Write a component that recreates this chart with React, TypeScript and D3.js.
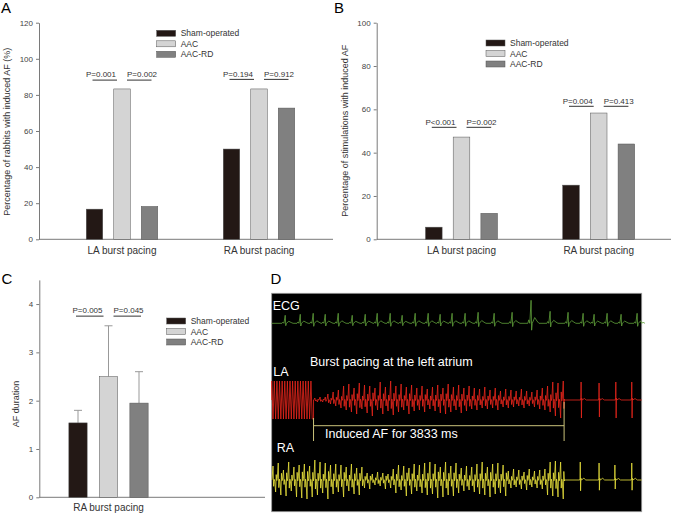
import React, { useRef, useEffect } from "react";
import * as d3 from "d3";

const W = 673;
const H = 514;
const FONT = "'Liberation Sans', Arial, sans-serif";
const AXIS = "#7a7a7a";
const TEXT = "#333";

const groups = ["Sham-operated", "AAC", "AAC-RD"];
const colors = ["#231815", "#d4d4d4", "#808080"];
const sites = ["LA burst pacing", "RA burst pacing"];

// A: % rabbits with induced AF
const rabbitsLA = [16.7, 83.3, 18.2];
const rabbitsRA = [50, 83.3, 72.7];
const rabbitsP = [["P=0.001", "P=0.002"], ["P=0.194", "P=0.912"]];
const ticksA = [0, 20, 40, 60, 80, 100, 120];

// B: % stimulations with induced AF
const stimLA = [5.6, 47.2, 12.0];
const stimRA = [25.0, 58.3, 44.0];
const stimP = [["P<0.001", "P=0.002"], ["P=0.004", "P=0.413"]];
const ticksB = [0, 20, 40, 60, 80, 100];

// C: AF duration (RA burst pacing)
const durationRA = [1.54, 2.5, 1.95];
const durationErr = [0.26, 1.05, 0.65];
const durationP = [["P=0.005", "P=0.045"]];
const ticksC = [0, 1, 2, 3, 4];

// D: recordings, time in ms (0 = end of burst pacing)
const afDurationMs = 3833;
const ecgBeatMs = [-433, -203, -5, 179, 378, 592, 791, 974, 1173, 1356, 1555, 1754, 1937,
  2120, 2319, 2518, 2763, 3038, 3328, 3619, 3894, 4124, 4292, 4491, 4705, 4950];
const ecgBeatAmp = [8, 9, 10, 9, 10, 8, 9, 10, 10, 8, 10, 10, 9, 10, 10, 11, 10, 11, 23, 12,
  11, 10, 9, 10, 9, 10];
const laPacingMs = [-630, -590, -550, -510, -470, -430, -390, -350, -310, -270, -230, -190,
  -150, -110, -70, -30];
// LA AF deflections, one every 40 ms from 20 ms
const laAfAmp = [2, -2, 3, -2, 3,
  6, -4, 8, -6, 10,
  -8, 14, -10, 16, -12, 12, -14, 17, -9, 15,
  -13, 14, -16, 12, -10, 18, -14, 13, -11, 19,
  -15, 14, -12, 16, -10, 13, -14, 15, -11, 12,
  -10, 14, -12, 11, -9, 13, -11, 15, -13, 12,
  -14, 16, -12, 13, -10, 15, -13, 12, -11, 14,
  -9, 12, -10, 11, -8, 13, -9, 10, -8, 12,
  -10, 9, -7, 11, -8, 10, -7, 9, -6, 11,
  -8, 9, -6, 8, -7, 10, -9, 12, -10, 14,
  -12, 18, -16, 17, -18, 19];
const laBeatMs = [4093, 4368, 4624, 4868];
const laBeatAmp = [18, 17, 18, 18];
// RA deflections, one every 40 ms from -620 ms
const raAfAmp = [14, -12, 17, -15, 10, -16, 18, -11, 13, -17, 15,
  -18, 16, -19, 14, -17, 20, -15, 18, -13, 17, -19, 15,
  -14, 16, -12, 15, -17, 13, -11, 16, -14, 12, -15, 13,
  -8, 7, -9, 6, -5, 8, -6, 7, -9, 6, -8,
  11, -13, 15, -10, 14, -16, 12, -14, 16, -11, 15, -13,
  17, -15, 18, -14, 16, -18, 13, -17, 18, -15, 14, -16, 17, -13,
  12, -11, 14, -10, 13, -12,
  16, -14, 18, -15, 13, -17, 16, -14, 17, -13, 15, -16,
  9, -8, 11, -7, 10, -9, 8, -10, 11, -7, 9, -8, 10, -9, 11,
  -15, 18, -16, 19, -17, 18, -19];
const raBeatMs = [4080, 4368, 4610, 4868];
const raBeatAmp = [18, 17, 15, 17];

type Panel = {
  letter: string; letterX: number; letterY: number;
  x0: number; x1: number; y0: number; y1: number; yMax: number; ticks: number[];
  sites: string[]; siteRange: [number, number]; half: number;
  values: number[][]; errors?: number[][];
  pText: string[][]; pLevel: number[];
  legendX: number; legendY: number;
  yLabel: string; yLabelX: number; yLabelY: number; catY: number;
};

const panels: Panel[] = [
  {
    letter: "A", letterX: 1, letterY: 13,
    x0: 39, x1: 333, y0: 239.3, y1: 22.7, yMax: 120, ticks: ticksA,
    sites, siteRange: [122, 259], half: 35.75,
    values: [rabbitsLA, rabbitsRA], pText: rabbitsP, pLevel: [88.2, 88.6],
    legendX: 156.7, legendY: 33.3,
    yLabel: "Percentage of rabbits with induced AF (%)", yLabelX: 9.5, yLabelY: 131.7, catY: 253.5,
  },
  {
    letter: "B", letterX: 334, letterY: 13,
    x0: 376.7, x1: 671, y0: 239.3, y1: 22.7, yMax: 100, ticks: ticksB,
    sites, siteRange: [461.5, 598.7], half: 36,
    values: [stimLA, stimRA], pText: stimP, pLevel: [51.7, 61.4],
    legendX: 486, legendY: 43,
    yLabel: "Percentage of stimulations with induced AF", yLabelX: 348, yLabelY: 130.8, catY: 254,
  },
  {
    letter: "C", letterX: 1.5, letterY: 283.5,
    x0: 39.3, x1: 265, y0: 497.3, y1: 279.9, yMax: 4.5, ticks: ticksC,
    sites: ["RA burst pacing"], siteRange: [108.5, 108.5], half: 39.65,
    values: [durationRA], errors: [durationErr], pText: durationP, pLevel: [3.75],
    legendX: 166.7, legendY: 321,
    yLabel: "AF duration", yLabelX: 19, yLabelY: 404, catY: 510.5,
  },
];

function drawBarPanel(svg: any, p: Panel) {
  const g = svg.append("g");
  const y = d3.scaleLinear().domain([0, p.yMax]).range([p.y0, p.y1]);
  const site = d3.scalePoint<string>().domain(p.sites).range(p.siteRange);
  const inner = d3.scaleBand<string>().domain(groups).range([-p.half, p.half]).paddingInner(0.4);
  const bw = inner.bandwidth();

  const ax = g.append("g")
    .attr("transform", `translate(${p.x0},0)`)
    .call(d3.axisLeft(y).tickValues(p.ticks).tickFormat(d3.format("~g"))
      .tickSize(3).tickSizeOuter(0).tickPadding(3));
  ax.attr("font-family", FONT).attr("font-size", 8);
  ax.select(".domain").attr("stroke", AXIS);
  ax.selectAll(".tick line").attr("stroke", AXIS);
  ax.selectAll(".tick text").attr("fill", "#444");

  g.append("line")
    .attr("x1", p.x0).attr("x2", p.x1)
    .attr("y1", p.y0).attr("y2", p.y0)
    .attr("stroke", AXIS);

  p.sites.forEach((s, si) => {
    const cx = site(s)!;
    groups.forEach((gr, gi) => {
      const v = p.values[si][gi];
      const bx = cx + inner(gr)!;
      if (p.errors) {
        const e = p.errors[si][gi];
        const mx = bx + bw / 2;
        g.append("line").attr("x1", mx).attr("x2", mx)
          .attr("y1", y(v)).attr("y2", y(v + e)).attr("stroke", "#999");
        g.append("line").attr("x1", mx - 4).attr("x2", mx + 4)
          .attr("y1", y(v + e)).attr("y2", y(v + e)).attr("stroke", "#999");
      }
      g.append("rect")
        .attr("x", bx).attr("y", y(v))
        .attr("width", bw).attr("height", y(0) - y(v))
        .attr("fill", colors[gi])
        .attr("stroke", "#555").attr("stroke-width", 0.5);
    });

    g.append("text")
      .attr("x", cx).attr("y", p.catY)
      .attr("text-anchor", "middle")
      .attr("font-size", 10).attr("fill", TEXT)
      .text(s);

    // p-values
    const c = groups.map((gr) => cx + inner(gr)! + bw / 2);
    const ly = y(p.pLevel[si]);
    [[c[0] - 2, c[1] - 5], [c[1] + 5, c[2] + 2]].forEach(([a, b]) => {
      g.append("line").attr("x1", a).attr("x2", b)
        .attr("y1", ly).attr("y2", ly)
        .attr("stroke", "#333").attr("stroke-width", 1);
    });
    g.append("text").attr("x", c[1] - 6).attr("y", ly - 2.7)
      .attr("text-anchor", "end").attr("font-size", 8).attr("fill", TEXT)
      .text(p.pText[si][0]);
    g.append("text").attr("x", c[1] + 5).attr("y", ly - 2.7)
      .attr("text-anchor", "start").attr("font-size", 8).attr("fill", TEXT)
      .text(p.pText[si][1]);
  });

  // legend
  groups.forEach((gr, i) => {
    const ry = p.legendY + i * 10.5;
    g.append("rect")
      .attr("x", p.legendX).attr("y", ry - 3)
      .attr("width", 19).attr("height", 6)
      .attr("fill", colors[i]).attr("stroke", "#555").attr("stroke-width", 0.5);
    g.append("text")
      .attr("x", p.legendX + 24).attr("y", ry + 3)
      .attr("font-size", 8.5).attr("fill", TEXT)
      .text(gr);
  });

  g.append("text")
    .attr("transform", `translate(${p.yLabelX},${p.yLabelY}) rotate(-90)`)
    .attr("text-anchor", "middle")
    .attr("font-size", 9).attr("fill", TEXT)
    .text(p.yLabel);

  g.append("text")
    .attr("x", p.letterX).attr("y", p.letterY)
    .attr("font-size", 15).attr("fill", "#000")
    .text(p.letter);
}

function beats(times: number[], amps: number[], shape: number[][]) {
  return times.flatMap((t, i) => shape.map(([dt, f]) => [t + dt, f * amps[i]]));
}

// each AF deflection drawn as a sharp spike
const spikeShape = [[-14, 0.1], [0, 1], [9, -0.45], [18, 0.05]];

function drawTraces(svg: any) {
  const left = 271.7, right = 641.7, top = 293.3, bottom = 511.7;
  const g = svg.append("g");
  g.append("rect")
    .attr("x", left).attr("y", top)
    .attr("width", right - left).attr("height", bottom - top)
    .attr("fill", "#000").attr("stroke", "#999").attr("stroke-width", 0.8);

  const tx = d3.scaleLinear().domain([-640, 5020]).range([left, right]);
  const ecgY = d3.scaleLinear().domain([-20, 20]).range([343.3, 303.3]);
  const laY = d3.scaleLinear().domain([-20, 20]).range([420, 380]);
  const raY = d3.scaleLinear().domain([-20, 20]).range([500, 460]);

  const byTime = (a: number[], b: number[]) => a[0] - b[0];

  // ECG
  const ecgShape = [[-50, 0], [-35, 0.15], [-20, 0], [0, 1], [8, -0.3], [18, 0], [55, 0.25], [90, 0.1], [120, 0]];
  const ecgPts = [[-640, 0], ...beats(ecgBeatMs, ecgBeatAmp, ecgShape), [5020, 0]].sort(byTime);

  // LA
  const laPts: number[][] = [[-640, 0]];
  laPacingMs.forEach((t) => { laPts.push([t - 10, 19], [t + 10, -19]); });
  laPts.push([0, -19], [0, 0]);
  const laAfMs = laAfAmp.map((_, i) => 20 + i * 40);
  laPts.push(...beats(laAfMs, laAfAmp, spikeShape));
  laPts.push([afDurationMs, 0]);
  const laShape = [[-8, 0], [-3, 0.15], [0, 1], [5, -1], [9, 0.1], [16, 0], [50, 0.08], [80, 0]];
  laPts.push(...beats(laBeatMs, laBeatAmp, laShape), [5020, 0]);

  // RA
  const raPts: number[][] = [[-640, 0]];
  const raAfMs = raAfAmp.map((_, i) => -620 + i * 40);
  raPts.push(...beats(raAfMs, raAfAmp, spikeShape));
  raPts.push([afDurationMs, 0]);
  const raShape = [[-8, 0], [-3, 0.1], [0, 1], [5, -0.6], [10, 0.1], [18, 0], [55, 0.1], [85, 0]];
  raPts.push(...beats(raBeatMs, raBeatAmp, raShape), [5020, 0]);

  const traces: [number[][], any, string][] = [
    [ecgPts, ecgY, "#5fa03a"],
    [laPts, laY, "#e8261c"],
    [raPts, raY, "#eae23c"],
  ];
  traces.forEach(([pts, ys, col]) => {
    const line = d3.line<number[]>().x((d) => tx(d[0])).y((d) => ys(d[1]));
    g.append("path").attr("d", line(pts)).attr("fill", "none")
      .attr("stroke", col).attr("stroke-width", 0.8);
  });

  // AF bracket
  const bc = "#c9c27a";
  const x0 = tx(0), x1 = tx(afDurationMs);
  g.append("line").attr("x1", x0).attr("x2", x1).attr("y1", 425.7).attr("y2", 425.7).attr("stroke", bc);
  g.append("line").attr("x1", x0).attr("x2", x0).attr("y1", 418).attr("y2", 441).attr("stroke", bc);
  g.append("line").attr("x1", x1).attr("x2", x1).attr("y1", 402).attr("y2", 441).attr("stroke", bc);

  const labels: [string, number, number, number][] = [
    ["ECG", 272.7, 310, 12.5],
    ["Burst pacing at the left atrium", 310, 365.7, 12.5],
    ["LA", 273.3, 375.7, 12.5],
    [`Induced AF for ${afDurationMs} ms`, 325, 438.3, 12.5],
    ["RA", 276.7, 452.3, 12.5],
  ];
  labels.forEach(([t, x, y, fs]) => {
    g.append("text").attr("x", x).attr("y", y)
      .attr("font-size", fs).attr("fill", "#fff").text(t);
  });

  svg.append("text").attr("x", 270.5).attr("y", 284)
    .attr("font-size", 15).attr("fill", "#000").text("D");
}

export default function App() {
  const ref = useRef<SVGSVGElement | null>(null);

  useEffect(() => {
    const svg = d3.select(ref.current);
    svg.selectAll("*").remove();
    svg.append("rect").attr("width", W).attr("height", H).attr("fill", "#fff");
    panels.forEach((p) => drawBarPanel(svg, p));
    drawTraces(svg);
  }, []);

  return (
    <svg
      ref={ref}
      width={W}
      height={H}
      style={{ position: "absolute", left: 0, top: 0, fontFamily: FONT }}
    />
  );
}
